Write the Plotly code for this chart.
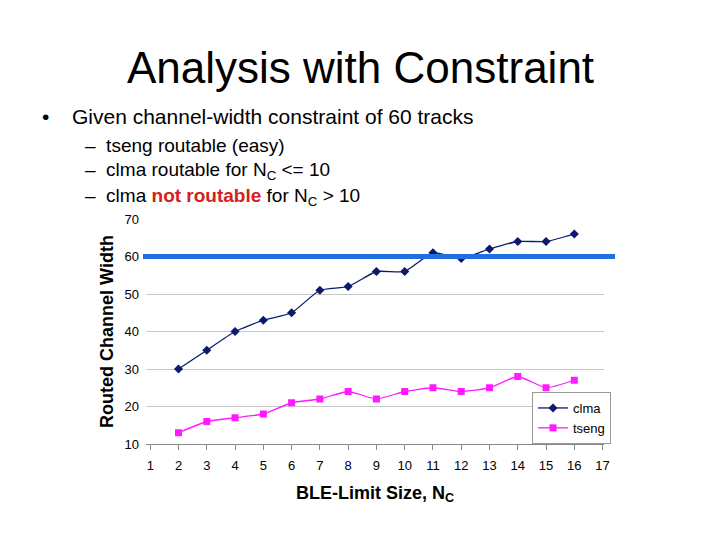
import plotly.graph_objects as go

# BLE-limit size N_C
nc = [2, 3, 4, 5, 6, 7, 8, 9, 10, 11, 12, 13, 14, 15, 16]
clma = [30, 35, 40, 43, 45, 51, 52, 56, 56, 61, 59.5, 62, 64, 64, 66]
tseng = [13, 16, 17, 18, 21, 22, 24, 22, 24, 25, 24, 25, 28, 25, 27]
constraint = 60
x_ticks = list(range(1, 18))
y_ticks = [10, 20, 30, 40, 50, 60, 70]

# page draws the figure 8px in from the top-left corner
OFF = 8
L, R, T, B = 146 - OFF, 116 + OFF, 219 - OFF, 96 + OFF
W, H = 720, 540

def px_x(p):
    return (p - OFF - L) / (W - L - R)

def px_y(p):
    return (H - B - (p - OFF)) / (H - T - B)

fig = go.Figure()

fig.add_trace(go.Scatter(
    x=nc, y=clma, name="clma", mode="lines+markers",
    line=dict(color="#0b1a6b", width=1.3, shape="spline", smoothing=0.5),
    marker=dict(symbol="diamond", size=7, color="#0b1a6b"),
))
fig.add_trace(go.Scatter(
    x=nc, y=tseng, name="tseng", mode="lines+markers",
    line=dict(color="#ff1aff", width=1.3, shape="spline", smoothing=0.5),
    marker=dict(symbol="square", size=7, color="#ff1aff"),
))

# the 60 track constraint, drawn across the plot
fig.add_shape(type="line", xref="paper", yref="y",
              x0=px_x(143), x1=px_x(615), y0=constraint, y1=constraint,
              line=dict(color="#1f6fe0", width=5), layer="above")

fig.add_annotation(text="Analysis with Constraint", xref="paper", yref="paper",
                   x=px_x(360), y=px_y(68), xanchor="center", yanchor="middle",
                   showarrow=False, font=dict(size=44, color="black"))
fig.add_annotation(text="•", xref="paper", yref="paper",
                   x=px_x(40), y=px_y(117), xanchor="left", yanchor="middle",
                   showarrow=False, font=dict(size=21))
fig.add_annotation(text="Given channel-width constraint of 60 tracks",
                   xref="paper", yref="paper", x=px_x(70), y=px_y(117),
                   xanchor="left", yanchor="middle", showarrow=False,
                   font=dict(size=21))
subs = [
    "–  tseng routable (easy)",
    "–  clma routable for N<sub>C</sub> <= 10",
    "–  clma <b><span style='color:#d42020'>not routable</span></b> for N<sub>C</sub> > 10",
]
for i, s in enumerate(subs):
    fig.add_annotation(text=s, xref="paper", yref="paper",
                       x=px_x(83), y=px_y(145 + 26 * i),
                       xanchor="left", yanchor="middle",
                       showarrow=False, font=dict(size=19))

fig.update_layout(
    width=W, height=H,
    margin=dict(l=L, r=R, t=T, b=B),
    paper_bgcolor="white", plot_bgcolor="white",
    font=dict(family="Liberation Sans, Arial, sans-serif", color="black"),
    showlegend=True,
    legend=dict(x=px_x(532), y=px_y(444), xanchor="left", yanchor="bottom",
                bordercolor="#999999", borderwidth=1, bgcolor="white",
                font=dict(size=13), itemwidth=30, tracegroupgap=0),
)

fig.update_xaxes(range=[0.85, 17.05], tickvals=x_ticks, showgrid=False,
                 showline=True, linecolor="#888888", ticks="outside",
                 tickcolor="#888888", ticklen=5, zeroline=False,
                 tickfont=dict(size=13), ticklabelstandoff=4,
                 title=dict(text="<b>BLE-Limit Size, N<sub>C</sub></b>",
                            font=dict(size=18), standoff=14))
fig.update_yaxes(range=[10, 70], tickvals=y_ticks, showgrid=True,
                 gridcolor="#c8c8c8", gridwidth=1, showline=False,
                 zeroline=False, tickfont=dict(size=13), ticklabelstandoff=6,
                 title=dict(text="<b>Routed Channel Width</b>",
                            font=dict(size=18), standoff=6))

fig.write_html("out.html")
